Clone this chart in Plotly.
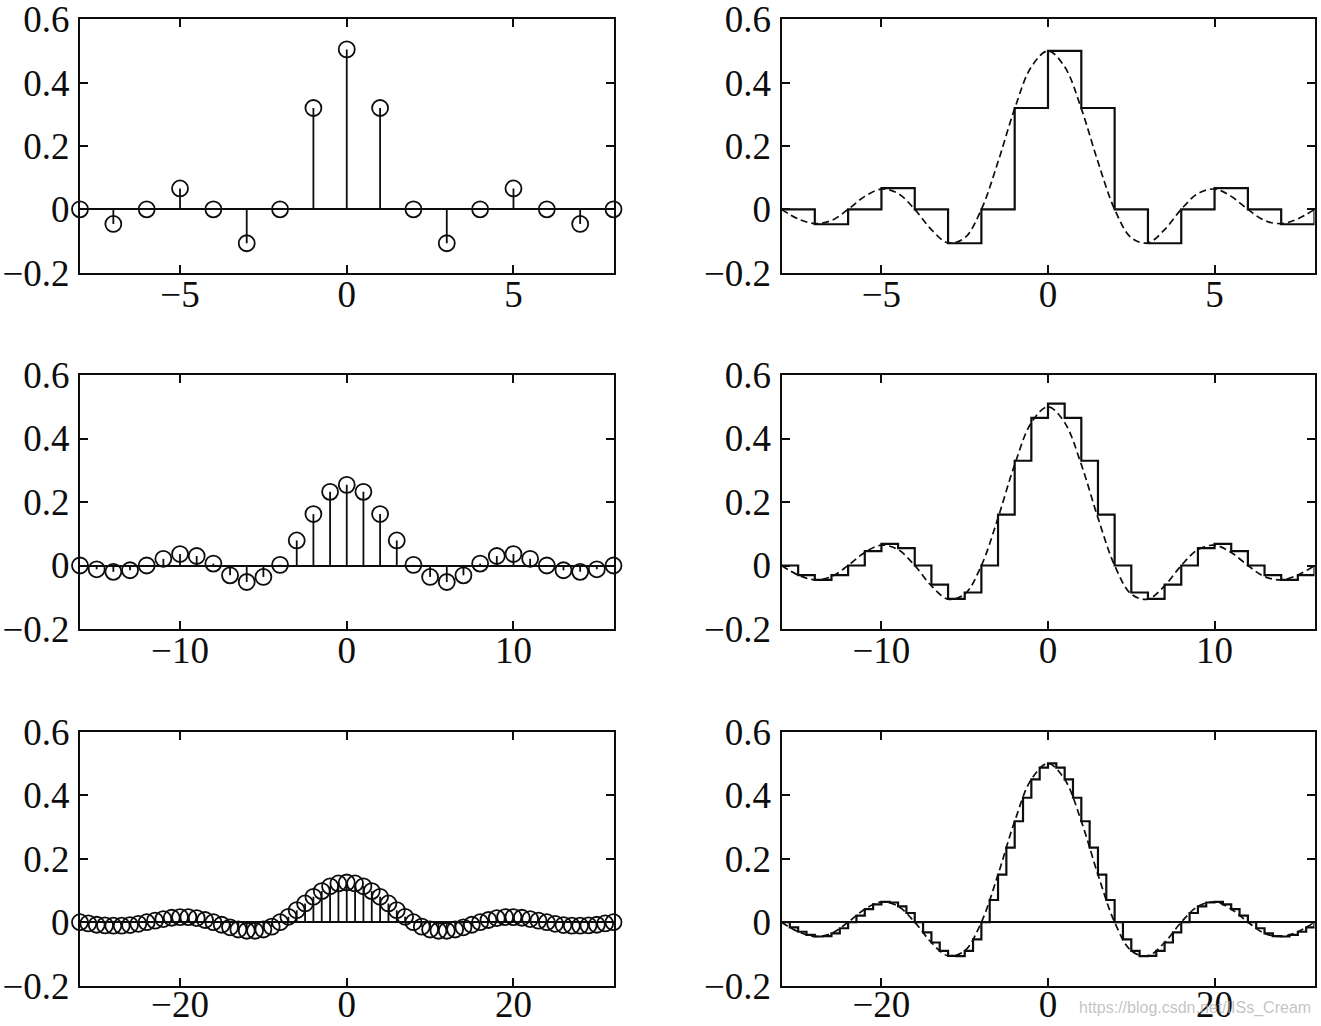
import numpy as np
import plotly.graph_objects as go

# ---------------- data ----------------
n1 = list(range(-8, 9))
stem1 = [0.0, -0.046, 0.0, 0.066, 0.0, -0.107, 0.0, 0.320, 0.505, 0.320, 0.0, -0.107, 0.0, 0.066, 0.0, -0.046, 0.0]
hold1 = [0.0, -0.047, 0.0, 0.067, 0.0, -0.107, 0.0, 0.320, 0.500, 0.320, 0.0, -0.107, 0.0, 0.067, 0.0, -0.047, 0.0]

n2 = list(range(-16, 17))
stem2 = [0.0, -0.012, -0.020, -0.015, 0.0, 0.021, 0.036, 0.030, 0.006, -0.031, -0.052, -0.036, 0.002,
         0.079, 0.162, 0.232, 0.254, 0.232, 0.162, 0.079, 0.002, -0.036, -0.052, -0.031, 0.006,
         0.030, 0.036, 0.021, 0.0, -0.015, -0.020, -0.012, 0.0]
hold2 = [0.0, -0.030, -0.045, -0.030, 0.0, 0.045, 0.068, 0.055, 0.0, -0.060, -0.105, -0.085, 0.0,
         0.160, 0.330, 0.465, 0.510, 0.465, 0.330, 0.160, 0.0, -0.085, -0.105, -0.060, 0.0,
         0.055, 0.068, 0.045, 0.0, -0.030, -0.045, -0.030, 0.0]

n3 = list(range(-32, 33))
stem3 = [0.0, -0.004, -0.008, -0.010, -0.011, -0.011, -0.009, -0.005, 0.0, 0.005, 0.010, 0.014, 0.016,
         0.016, 0.013, 0.007, 0.0, -0.008, -0.016, -0.023, -0.027, -0.027, -0.023, -0.014, 0.0, 0.017,
         0.038, 0.059, 0.080, 0.098, 0.113, 0.122, 0.125, 0.122, 0.113, 0.098, 0.080, 0.059, 0.038,
         0.017, 0.0, -0.014, -0.023, -0.027, -0.027, -0.023, -0.016, -0.008, 0.0, 0.007, 0.013, 0.016,
         0.016, 0.014, 0.010, 0.005, 0.0, -0.005, -0.009, -0.011, -0.011, -0.010, -0.008, -0.004, 0.0]
hold3 = [0.0, -0.016, -0.030, -0.040, -0.045, -0.044, -0.035, -0.019, 0.0, 0.021, 0.041, 0.056, 0.064,
         0.062, 0.050, 0.029, 0.0, -0.032, -0.064, -0.090, -0.106, -0.107, -0.090, -0.054, 0.0, 0.070,
         0.150, 0.235, 0.318, 0.392, 0.450, 0.487, 0.500, 0.487, 0.450, 0.392, 0.318, 0.235, 0.150,
         0.070, 0.0, -0.054, -0.090, -0.107, -0.106, -0.090, -0.064, -0.032, 0.0, 0.029, 0.050, 0.062,
         0.064, 0.056, 0.041, 0.021, 0.0, -0.019, -0.035, -0.044, -0.045, -0.040, -0.030, -0.016, 0.0]

# dashed continuous curve, sampled at 33 evenly spaced points across each axis range
curve_y = [0.0, -0.030, -0.045, -0.035, 0.0, 0.041, 0.064, 0.050, 0.0, -0.064, -0.106, -0.090, 0.0,
           0.150, 0.318, 0.450, 0.500, 0.450, 0.318, 0.150, 0.0, -0.090, -0.106, -0.064, 0.0,
           0.050, 0.064, 0.041, 0.0, -0.035, -0.045, -0.030, 0.0]

x_ranges = [8, 16, 32]
x_tickvals = [[-5, 0, 5], [-10, 0, 10], [-20, 0, 20]]
x_ticktext = [["\u22125", "0", "5"], ["\u221210", "0", "10"], ["\u221220", "0", "20"]]
y_tickvals = [-0.2, 0, 0.2, 0.4, 0.6]
y_ticktext = ["\u22120.2", "0", "0.2", "0.4", "0.6"]

rows = [(n1, stem1, hold1), (n2, stem2, hold2), (n3, stem3, hold3)]

# ---------------- layout geometry (pixels) ----------------
W, H = 1321, 1026
left_px = (80, 613.5)
right_px = (781.5, 1314.5)
row_px = [(19.3, 272.7), (375.0, 629.0), (731.7, 985.7)]
x_label_standoff = [-12, -12, -15]

INK = "#0d0d0d"
FONT = dict(family="Liberation Serif, Times New Roman, serif", size=37, color=INK)

fig = go.Figure()
layout = dict(
    width=W, height=H, margin=dict(l=0, r=0, t=0, b=0, pad=0, autoexpand=False),
    paper_bgcolor="white", plot_bgcolor="white", showlegend=False, font=FONT,
)

def axis_common():
    return dict(showline=True, linecolor=INK, linewidth=2, mirror="ticks",
                ticks="inside", ticklen=8, tickwidth=1.6, tickcolor=INK,
                showgrid=False, tickfont=FONT, automargin=False,
                ticklabeloverflow="allow")

for i, (n, stem, hold) in enumerate(rows):
    R = x_ranges[i]
    yd = [1 - row_px[i][1] / H, 1 - row_px[i][0] / H]
    for j, xpx in enumerate([left_px, right_px]):
        k = 2 * i + j + 1
        xa = "x" if k == 1 else f"x{k}"
        ya = "y" if k == 1 else f"y{k}"
        xkey = "xaxis" if k == 1 else f"xaxis{k}"
        ykey = "yaxis" if k == 1 else f"yaxis{k}"
        layout[xkey] = dict(axis_common(), domain=[xpx[0] / W, xpx[1] / W], range=[-R, R],
                            tickvals=x_tickvals[i], ticktext=x_ticktext[i], anchor=ya,
                            zeroline=False, ticklabelstandoff=x_label_standoff[i])
        show_zero = (j == 0) or (i == 2)
        layout[ykey] = dict(axis_common(), domain=yd, range=[-0.2, 0.6],
                            tickvals=y_tickvals, ticktext=y_ticktext, anchor=xa,
                            zeroline=show_zero, zerolinecolor=INK, zerolinewidth=2,
                            ticklabelstandoff=1)
        if j == 0:
            sx, sy = [], []
            for xv, yv in zip(n, stem):
                sx += [xv, xv, None]
                sy += [0, yv, None]
            fig.add_trace(go.Scatter(x=sx, y=sy, mode="lines", xaxis=xa, yaxis=ya,
                                     line=dict(color=INK, width=1.8), hoverinfo="skip"))
            fig.add_trace(go.Scatter(x=n, y=stem, mode="markers", xaxis=xa, yaxis=ya,
                                     cliponaxis=False,
                                     marker=dict(symbol="circle-open", size=16, color=INK,
                                                 line=dict(width=1.8, color=INK))))
        else:
            cx = np.linspace(-R, R, len(curve_y))
            fig.add_trace(go.Scatter(x=cx, y=curve_y, mode="lines", xaxis=xa, yaxis=ya,
                                     line=dict(color=INK, width=1.7, dash="7px,4px",
                                               shape="spline", smoothing=1.0)))
            fig.add_trace(go.Scatter(x=n, y=hold, mode="lines", xaxis=xa, yaxis=ya,
                                     line=dict(color=INK, width=2.2, shape="hv")))

layout["annotations"] = [dict(
    text="https://blog.csdn.net/IISs_Cream", xref="paper", yref="paper",
    x=1313 / W, y=1 - 1008 / H, xanchor="right", yanchor="middle", showarrow=False,
    font=dict(family="Liberation Sans, Arial, sans-serif", size=16, color="rgba(175,175,175,0.75)"),
)]

fig.update_layout(**layout)
fig.write_html("out.html")
